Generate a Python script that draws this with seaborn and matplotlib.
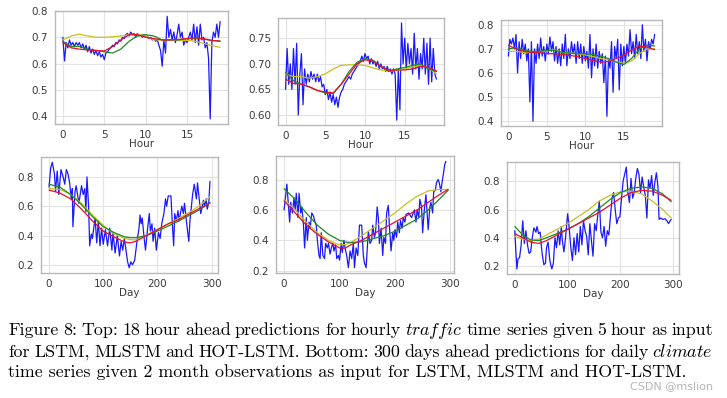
import numpy as np
import pandas as pd
import matplotlib
matplotlib.use("Agg")
import matplotlib.pyplot as plt
import seaborn as sns

sns.set_style("whitegrid")
plt.rcParams.update({
    "font.family": ["DejaVu Sans"],
    "mathtext.fontset": "cm",
    "axes.edgecolor": "#b8b8b8",
    "axes.linewidth": 1.0,
    "grid.color": "#e3e3e3",
    "grid.linewidth": 0.8,
    "xtick.labelsize": 7.5,
    "ytick.labelsize": 7.5,
    "xtick.color": "#3a3a3a",
    "ytick.color": "#3a3a3a",
    "axes.labelcolor": "#3a3a3a",
    "axes.labelsize": 7.5,
})

# ---- top row: hourly traffic (samples every 0.2 h) ----
traffic_1 = [0.70, 0.61, 0.68, 0.66, 0.69, 0.67, 0.68, 0.665, 0.68, 0.67,
             0.68, 0.66, 0.675, 0.655, 0.67, 0.645, 0.665, 0.64, 0.655, 0.635,
             0.65, 0.63, 0.645, 0.625, 0.635, 0.615, 0.64, 0.645, 0.655, 0.66,
             0.67, 0.665, 0.68, 0.675, 0.69, 0.685, 0.70, 0.695, 0.71, 0.715,
             0.705, 0.72, 0.71, 0.715, 0.70, 0.715, 0.705, 0.71, 0.70, 0.71,
             0.70, 0.705, 0.695, 0.70, 0.69, 0.695, 0.685, 0.69, 0.67, 0.65,
             0.59, 0.69, 0.64, 0.78, 0.70, 0.73, 0.69, 0.72, 0.68, 0.71,
             0.75, 0.70, 0.72, 0.67, 0.69, 0.68, 0.70, 0.72, 0.69, 0.75,
             0.68, 0.74, 0.67, 0.75, 0.69, 0.70, 0.66, 0.68, 0.62, 0.39,
             0.68, 0.72, 0.70, 0.75, 0.70, 0.76]
traffic_2 = [0.65, 0.73, 0.66, 0.70, 0.65, 0.73, 0.66, 0.74, 0.60, 0.68,
             0.72, 0.62, 0.69, 0.66, 0.68, 0.665, 0.685, 0.67, 0.68, 0.665,
             0.68, 0.665, 0.675, 0.655, 0.66, 0.64, 0.65, 0.63, 0.645, 0.625,
             0.64, 0.62, 0.635, 0.615, 0.635, 0.645, 0.65, 0.66, 0.665, 0.67,
             0.675, 0.67, 0.68, 0.685, 0.69, 0.695, 0.70, 0.705, 0.715, 0.705,
             0.72, 0.71, 0.715, 0.70, 0.71, 0.70, 0.705, 0.695, 0.705, 0.69,
             0.70, 0.69, 0.695, 0.685, 0.695, 0.685, 0.69, 0.68, 0.69, 0.68,
             0.59, 0.69, 0.61, 0.78, 0.70, 0.75, 0.69, 0.74, 0.70, 0.73,
             0.68, 0.76, 0.69, 0.73, 0.67, 0.72, 0.69, 0.75, 0.68, 0.74,
             0.66, 0.75, 0.665, 0.73, 0.68, 0.67]
traffic_3 = [0.67, 0.74, 0.72, 0.745, 0.70, 0.76, 0.60, 0.73, 0.66, 0.74,
             0.68, 0.72, 0.65, 0.70, 0.48, 0.73, 0.40, 0.70, 0.64, 0.72,
             0.66, 0.745, 0.67, 0.71, 0.65, 0.72, 0.68, 0.75, 0.69, 0.73,
             0.65, 0.71, 0.64, 0.70, 0.63, 0.72, 0.66, 0.76, 0.63, 0.70,
             0.66, 0.73, 0.68, 0.72, 0.64, 0.73, 0.66, 0.72, 0.64, 0.71,
             0.65, 0.69, 0.62, 0.76, 0.58, 0.70, 0.63, 0.72, 0.62, 0.69,
             0.64, 0.68, 0.56, 0.67, 0.42, 0.66, 0.62, 0.73, 0.52, 0.71,
             0.66, 0.74, 0.53, 0.72, 0.63, 0.71, 0.64, 0.72, 0.67, 0.78,
             0.68, 0.73, 0.66, 0.76, 0.68, 0.73, 0.66, 0.80, 0.69, 0.74,
             0.65, 0.73, 0.70, 0.74, 0.72, 0.76]

hours_pred = list(range(20))
lstm_1 = [0.69, 0.705, 0.712, 0.705, 0.70, 0.70, 0.702, 0.705, 0.71, 0.712,
          0.705, 0.69, 0.69, 0.69, 0.688, 0.688, 0.685, 0.677, 0.668, 0.662]
mlstm_1 = [0.685, 0.665, 0.665, 0.655, 0.65, 0.645, 0.64, 0.655, 0.685, 0.705,
           0.71, 0.705, 0.69, 0.69, 0.69, 0.695, 0.697, 0.693, 0.688, 0.686]
hot_1 = [0.68, 0.66, 0.655, 0.652, 0.65, 0.648, 0.665, 0.69, 0.71, 0.71,
         0.70, 0.695, 0.69, 0.69, 0.692, 0.695, 0.698, 0.695, 0.688, 0.685]

lstm_2 = [0.68, 0.675, 0.675, 0.672, 0.675, 0.68, 0.69, 0.697, 0.698, 0.698,
          0.697, 0.692, 0.688, 0.686, 0.687, 0.69, 0.694, 0.697, 0.692, 0.68]
mlstm_2 = [0.683, 0.667, 0.66, 0.655, 0.648, 0.643, 0.642, 0.66, 0.685, 0.703,
           0.71, 0.707, 0.695, 0.685, 0.69, 0.693, 0.697, 0.70, 0.69, 0.685]
hot_2 = [0.67, 0.662, 0.66, 0.655, 0.648, 0.645, 0.643, 0.66, 0.68, 0.70,
         0.708, 0.705, 0.695, 0.687, 0.688, 0.688, 0.69, 0.695, 0.693, 0.686]

lstm_3 = [0.69, 0.69, 0.685, 0.685, 0.688, 0.69, 0.698, 0.685, 0.683, 0.68,
          0.675, 0.668, 0.66, 0.655, 0.648, 0.64, 0.65, 0.68, 0.70, 0.70]
mlstm_3 = [0.70, 0.705, 0.695, 0.69, 0.69, 0.693, 0.695, 0.685, 0.683, 0.68,
           0.68, 0.676, 0.67, 0.66, 0.645, 0.635, 0.66, 0.70, 0.715, 0.712]
hot_3 = [0.715, 0.70, 0.69, 0.685, 0.685, 0.68, 0.68, 0.677, 0.673, 0.668,
         0.66, 0.652, 0.645, 0.648, 0.66, 0.675, 0.695, 0.712, 0.708, 0.697]

# ---- bottom row: daily climate ----
days_4 = [0, 3, 6, 10, 12, 15, 18, 22, 26, 29, 32, 35, 38, 41, 43, 44, 48, 50, 55, 60,
          63, 66, 68, 70, 73, 75, 78, 80, 85, 88, 91, 94, 97, 100, 104, 108, 112, 116, 118, 122,
          126, 130, 133, 136, 139, 142, 145, 148, 151, 154, 158, 162, 166, 168, 170, 172, 175, 178, 182, 185,
          187, 190, 192, 195, 198, 202, 205, 208, 212, 215, 217, 220, 225, 228, 230, 232, 235, 238, 240, 245,
          248, 250, 255, 258, 260, 265, 268, 272, 274, 278, 280, 285, 287, 290, 292, 295, 297]
climate_4 = [0.73, 0.86, 0.90, 0.82, 0.70, 0.84, 0.68, 0.85, 0.80, 0.75, 0.85, 0.82, 0.76, 0.65, 0.72, 0.46, 0.70, 0.74, 0.62, 0.74,
             0.68, 0.72, 0.56, 0.80, 0.60, 0.33, 0.41, 0.38, 0.52, 0.35, 0.50, 0.33, 0.45, 0.34, 0.44, 0.33, 0.45, 0.30, 0.42, 0.28,
             0.40, 0.26, 0.36, 0.30, 0.38, 0.30, 0.22, 0.18, 0.22, 0.20, 0.23, 0.35, 0.45, 0.54, 0.48, 0.52, 0.40, 0.30, 0.45, 0.55,
             0.43, 0.48, 0.36, 0.45, 0.30, 0.42, 0.38, 0.48, 0.55, 0.65, 0.60, 0.67, 0.67, 0.45, 0.33, 0.55, 0.50, 0.57, 0.50, 0.60,
             0.55, 0.62, 0.45, 0.36, 0.50, 0.68, 0.75, 0.65, 0.76, 0.62, 0.55, 0.64, 0.60, 0.65, 0.58, 0.63, 0.77]

days_5 = [0, 3, 5, 8, 10, 12, 15, 18, 20, 22, 25, 27, 30, 32, 35, 37, 40, 42, 45, 47,
          50, 53, 55, 58, 60, 63, 65, 67, 70, 73, 75, 78, 80, 83, 86, 88, 90, 93, 95, 98,
          100, 103, 105, 108, 110, 113, 116, 119, 122, 125, 127, 130, 133, 136, 140, 143, 145, 148, 152, 155,
          158, 160, 163, 165, 168, 170, 172, 175, 178, 180, 183, 185, 188, 190, 193, 196, 198, 200, 203, 205,
          208, 210, 213, 215, 218, 220, 225, 230, 235, 238, 240, 243, 245, 248, 250, 253, 256, 260, 263, 265,
          268, 270, 273, 275, 278, 280, 283, 285, 288, 290, 292]
climate_5 = [0.60, 0.70, 0.77, 0.62, 0.52, 0.65, 0.58, 0.68, 0.60, 0.71, 0.55, 0.71, 0.58, 0.62, 0.50, 0.35, 0.55, 0.40, 0.52, 0.48,
             0.58, 0.56, 0.53, 0.50, 0.40, 0.30, 0.28, 0.45, 0.30, 0.28, 0.38, 0.35, 0.38, 0.31, 0.36, 0.38, 0.33, 0.37, 0.28, 0.30,
             0.27, 0.38, 0.32, 0.40, 0.35, 0.30, 0.22, 0.33, 0.28, 0.38, 0.22, 0.35, 0.30, 0.50, 0.50, 0.30, 0.25, 0.22, 0.46, 0.38,
             0.40, 0.50, 0.42, 0.45, 0.62, 0.55, 0.38, 0.48, 0.30, 0.42, 0.38, 0.58, 0.63, 0.50, 0.33, 0.45, 0.40, 0.47, 0.42, 0.52,
             0.45, 0.53, 0.48, 0.55, 0.52, 0.57, 0.58, 0.55, 0.60, 0.52, 0.60, 0.55, 0.67, 0.62, 0.45, 0.60, 0.70, 0.47, 0.62, 0.65,
             0.58, 0.72, 0.73, 0.78, 0.80, 0.78, 0.72, 0.78, 0.85, 0.90, 0.92]

days_6 = [0, 2, 4, 6, 9, 12, 15, 18, 21, 24, 27, 30, 33, 36, 40, 42, 45, 48, 50, 52,
          55, 58, 60, 63, 66, 68, 70, 73, 76, 79, 82, 85, 88, 90, 93, 96, 100, 103, 106, 109,
          112, 115, 118, 121, 124, 127, 130, 133, 136, 139, 142, 145, 148, 151, 154, 157, 160, 163, 166, 169,
          172, 175, 178, 181, 184, 187, 190, 193, 196, 199, 202, 205, 208, 211, 214, 217, 220, 223, 226, 229,
          232, 235, 238, 241, 244, 247, 250, 253, 256, 259, 262, 265, 268, 271, 273, 276, 280, 284, 288, 291,
          294, 296]
climate_6 = [0.45, 0.30, 0.18, 0.25, 0.26, 0.35, 0.52, 0.36, 0.45, 0.35, 0.29, 0.30, 0.40, 0.47, 0.44, 0.48, 0.43, 0.44, 0.35, 0.28,
             0.21, 0.22, 0.33, 0.37, 0.25, 0.21, 0.18, 0.22, 0.40, 0.33, 0.45, 0.35, 0.48, 0.38, 0.30, 0.40, 0.57, 0.47, 0.33, 0.24,
             0.40, 0.28, 0.43, 0.30, 0.48, 0.35, 0.52, 0.45, 0.41, 0.28, 0.50, 0.38, 0.27, 0.50, 0.45, 0.56, 0.66, 0.44, 0.40, 0.48,
             0.34, 0.45, 0.42, 0.55, 0.68, 0.72, 0.60, 0.50, 0.54, 0.55, 0.68, 0.80, 0.85, 0.90, 0.72, 0.65, 0.82, 0.68, 0.72, 0.82,
             0.89, 0.85, 0.72, 0.83, 0.76, 0.70, 0.54, 0.81, 0.75, 0.84, 0.70, 0.79, 0.86, 0.76, 0.53, 0.54, 0.53, 0.535, 0.52, 0.50,
             0.52, 0.53]

days_pred_4 = [0, 20, 40, 60, 80, 100, 120, 140, 150, 160, 180, 200, 220, 240, 260, 280, 297]
lstm_4 = [0.72, 0.715, 0.68, 0.62, 0.54, 0.47, 0.41, 0.38, 0.372, 0.37, 0.40, 0.44, 0.48, 0.52, 0.56, 0.61, 0.665]
mlstm_4 = [0.75, 0.73, 0.68, 0.61, 0.53, 0.46, 0.42, 0.39, 0.385, 0.385, 0.40, 0.43, 0.465, 0.50, 0.54, 0.58, 0.625]
hot_4 = [0.71, 0.69, 0.65, 0.58, 0.50, 0.43, 0.39, 0.355, 0.35, 0.36, 0.40, 0.44, 0.48, 0.51, 0.55, 0.59, 0.62]

days_pred_5 = [0, 20, 40, 60, 80, 100, 110, 120, 140, 160, 180, 200, 220, 240, 260, 280, 296]
lstm_5 = [0.67, 0.60, 0.52, 0.45, 0.40, 0.37, 0.372, 0.385, 0.43, 0.48, 0.53, 0.58, 0.64, 0.69, 0.725, 0.735, 0.735]
mlstm_5 = [0.74, 0.67, 0.58, 0.50, 0.44, 0.40, 0.39, 0.385, 0.39, 0.41, 0.43, 0.46, 0.50, 0.54, 0.60, 0.67, 0.73]
hot_5 = [0.66, 0.58, 0.50, 0.44, 0.39, 0.35, 0.348, 0.37, 0.40, 0.44, 0.48, 0.52, 0.56, 0.60, 0.65, 0.70, 0.735]

days_pred_6 = [0, 15, 30, 45, 60, 80, 100, 120, 140, 160, 180, 200, 220, 240, 260, 280, 296]
lstm_6 = [0.41, 0.39, 0.38, 0.39, 0.42, 0.46, 0.50, 0.55, 0.60, 0.66, 0.70, 0.725, 0.73, 0.71, 0.66, 0.60, 0.54]
mlstm_6 = [0.48, 0.42, 0.385, 0.38, 0.40, 0.43, 0.46, 0.50, 0.55, 0.61, 0.67, 0.72, 0.75, 0.76, 0.75, 0.71, 0.655]
hot_6 = [0.43, 0.40, 0.37, 0.36, 0.38, 0.42, 0.46, 0.50, 0.54, 0.58, 0.63, 0.68, 0.72, 0.735, 0.73, 0.70, 0.665]

W, H = 727, 398
fig = plt.figure(figsize=(W / 100, H / 100), dpi=100)


def add_panel(l, t, r, b):
    return fig.add_axes([l / W, 1 - b / H, (r - l) / W, (b - t) / H])


panels = [
    dict(box=(55, 11, 228, 124), x=np.linspace(0, 19, len(traffic_1)), y=traffic_1, xp=hours_pred,
         preds=(lstm_1, mlstm_1, hot_1), xlabel="Hour", xticks=[0, 5, 10, 15], yticks=[0.4, 0.5, 0.6, 0.7, 0.8]),
    dict(box=(278, 18, 444, 125), x=np.linspace(0, 19, len(traffic_2)), y=traffic_2, xp=hours_pred,
         preds=(lstm_2, mlstm_2, hot_2), xlabel="Hour", xticks=[0, 5, 10, 15], yticks=[0.60, 0.65, 0.70, 0.75]),
    dict(box=(501, 20, 662, 126), x=np.linspace(0, 19, len(traffic_3)), y=traffic_3, xp=hours_pred,
         preds=(lstm_3, mlstm_3, hot_3), xlabel="Hour", xticks=[0, 5, 10, 15], yticks=[0.4, 0.5, 0.6, 0.7, 0.8]),
    dict(box=(41, 157, 218, 273), x=days_4, y=climate_4, xp=days_pred_4,
         preds=(lstm_4, mlstm_4, hot_4), xlabel="Day", xticks=[0, 100, 200, 300], yticks=[0.2, 0.4, 0.6, 0.8]),
    dict(box=(276, 156, 454, 273), x=days_5, y=climate_5, xp=days_pred_5,
         preds=(lstm_5, mlstm_5, hot_5), xlabel="Day", xticks=[0, 100, 200, 300], yticks=[0.2, 0.4, 0.6, 0.8]),
    dict(box=(507, 162, 679, 274), x=days_6, y=climate_6, xp=days_pred_6,
         preds=(lstm_6, mlstm_6, hot_6), xlabel="Day", xticks=[0, 100, 200, 300], yticks=[0.2, 0.4, 0.6, 0.8]),
]

pred_colors = ["#c8c020", "#1f8a1f", "#e8102a"]

for p in panels:
    ax = add_panel(*p["box"])
    sns.lineplot(x=p["x"], y=p["y"], ax=ax, color="#0000ff", lw=0.9, alpha=0.9)
    for vals, c in zip(p["preds"], pred_colors):
        sns.lineplot(x=p["xp"], y=vals, ax=ax, color=c, lw=0.9)
    ax.set_xticks(p["xticks"])
    ax.set_yticks(p["yticks"])
    ax.set_xlabel(p["xlabel"], labelpad=-0.5)
    ax.set_ylabel("")
    ax.tick_params(axis="x", pad=0.5)
    ax.tick_params(axis="y", pad=1.5)
    x0, x1 = min(p["x"]), max(p["x"])
    pad = 0.05 * (x1 - x0)
    ax.set_xlim(x0 - pad, x1 + pad)

# ---- caption (justified like the LaTeX source) ----
cap_font = dict(family="cmr10", fontsize=12.9, color="#000000", va="baseline")
cap_lines = [
    "Figure 8: Top: 18 hour ahead predictions for hourly $\\mathit{traffic}$ time series given 5 hour as input",
    "for LSTM, MLSTM and HOT-LSTM. Bottom: 300 days ahead predictions for daily $\\mathit{climate}$",
]
baselines = [335, 356.7]
renderer = fig.canvas.get_renderer()
x_left, x_right = 8.3, 713
for line, yb in zip(cap_lines, baselines):
    words = line.split(" ")
    texts = [fig.text(0, 1 - yb / H, w, **cap_font) for w in words]
    widths = [t.get_window_extent(renderer).width for t in texts]
    gap = (x_right - x_left - sum(widths)) / (len(words) - 1)
    xpos = x_left
    for t, w in zip(texts, widths):
        t.set_x(xpos / W)
        xpos += w + gap

fig.text(x_left / W, 1 - 378 / H,
         "time series given 2 month observations as input for LSTM, MLSTM and HOT-LSTM.", **cap_font)

fig.text(713 / W, 1 - 389 / H, "CSDN @mslion", ha="right", va="baseline",
         fontsize=8, color="#b5b5b5")

fig.savefig("out.png", dpi=100)
